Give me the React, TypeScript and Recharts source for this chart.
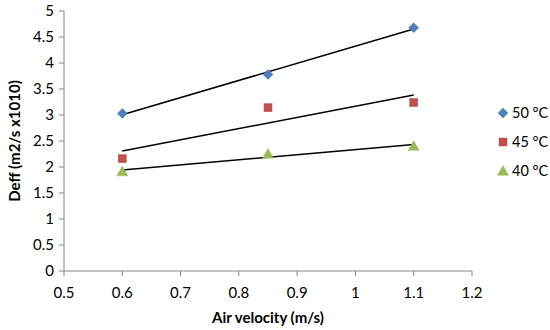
import React from 'react';
import { ComposedChart, Scatter, XAxis, YAxis, Label } from 'recharts';

const velocity = [0.6, 0.85, 1.1];
const deff50 = [3.03, 3.78, 4.68];
const deff45 = [2.16, 3.14, 3.24];
const deff40 = [1.91, 2.25, 2.4];
const seriesNames = ['50 °C', '45 °C', '40 °C'];
const xTicks = [0.5, 0.6, 0.7, 0.8, 0.9, 1, 1.1, 1.2];
const yTicks = [0, 0.5, 1, 1.5, 2, 2.5, 3, 3.5, 4, 4.5, 5];

const colors = ['#4F81BD', '#C0504D', '#9BBB59'];
const FONT = 'Lato, "Open Sans", sans-serif';

const toPoints = (ys: number[]) => velocity.map((x, i) => ({ x, y: ys[i] }));

// linear least-squares trendline over the data range
const trend = (ys: number[]) => {
  const n = velocity.length;
  const mx = velocity.reduce((a, b) => a + b, 0) / n;
  const my = ys.reduce((a, b) => a + b, 0) / n;
  let sxy = 0, sxx = 0;
  velocity.forEach((x, i) => { sxy += (x - mx) * (ys[i] - my); sxx += (x - mx) * (x - mx); });
  const m = sxy / sxx;
  const b = my - m * mx;
  const x0 = Math.min(...velocity), x1 = Math.max(...velocity);
  return [{ x: x0, y: m * x0 + b }, { x: x1, y: m * x1 + b }];
};

const Diamond = (p: any) => {
  const { cx, cy } = p; const r = 5;
  return <path d={`M${cx},${cy - r}L${cx + r},${cy}L${cx},${cy + r}L${cx - r},${cy}Z`} fill={colors[0]} stroke={colors[0]} strokeWidth={0.5} />;
};
const Square = (p: any) => {
  const { cx, cy } = p; const r = 4;
  return <rect x={cx - r} y={cy - r} width={2 * r} height={2 * r} fill={colors[1]} stroke={colors[1]} strokeWidth={0.5} />;
};
const Triangle = (p: any) => {
  const { cx, cy } = p; const r = 5.5;
  return <path d={`M${cx},${cy - r}L${cx + r},${cy + r * 0.75}L${cx - r},${cy + r * 0.75}Z`} fill={colors[2]} stroke={colors[2]} strokeWidth={0.5} />;
};
const NoShape = () => <g />;

const shapes = [Diamond, Square, Triangle];
const allSeries = [deff50, deff45, deff40];

const LegendIcon = ({ i }: { i: number }) => {
  const S = shapes[i];
  return (
    <svg width={12} height={12} style={{ display: 'block' }}>
      <S cx={6} cy={6} />
    </svg>
  );
};

export default function App() {
  const axisColor = '#868686';
  const tickStyle = { fill: '#000', fontSize: 15, fontFamily: FONT };
  return (
    <div style={{ position: 'absolute', left: 0, top: 0, width: 550, height: 330, background: '#fff' }}>
      <ComposedChart width={550} height={330} margin={{ top: 11, right: 78, bottom: 19, left: 14 }}>
        <XAxis
          type="number"
          dataKey="x"
          domain={[0.5, 1.2]}
          ticks={xTicks}
          interval={0}
          allowDataOverflow
          stroke={axisColor}
          tickSize={5}
          tickMargin={11}
          tick={tickStyle}
          height={40}
        >
          <Label value="Air velocity (m/s)" position="insideBottom" offset={-12} style={{ fontFamily: FONT, fontSize: 15, fontWeight: 700, fill: '#000' }} />
        </XAxis>
        <YAxis
          type="number"
          dataKey="y"
          domain={[0, 5]}
          ticks={yTicks}
          interval={0}
          allowDataOverflow
          stroke={axisColor}
          tickSize={5}
          tickMargin={5}
          tick={tickStyle}
          width={50}
        >
          <Label value="Deff (m2/s x1010)" angle={-90} position="insideLeft" offset={1} style={{ fontFamily: FONT, fontSize: 15, fontWeight: 700, fill: '#000', textAnchor: 'middle' }} />
        </YAxis>
        {allSeries.map((ys, i) => (
          <Scatter
            key={`t${i}`}
            data={trend(ys)}
            line={{ stroke: '#000', strokeWidth: 1.5 }}
            shape={NoShape}
            isAnimationActive={false}
          />
        ))}
        {allSeries.map((ys, i) => (
          <Scatter
            key={`s${i}`}
            name={seriesNames[i]}
            data={toPoints(ys)}
            shape={shapes[i]}
            isAnimationActive={false}
          />
        ))}
      </ComposedChart>
      <div style={{ position: 'absolute', left: 497, top: 98, fontFamily: FONT, fontSize: 14.5, color: '#000' }}>
        {seriesNames.map((n, i) => (
          <div key={n} style={{ display: 'flex', alignItems: 'center', height: 29 }}>
            <LegendIcon i={i} />
            <span style={{ marginLeft: 3 }}>{n}</span>
          </div>
        ))}
      </div>
    </div>
  );
}
